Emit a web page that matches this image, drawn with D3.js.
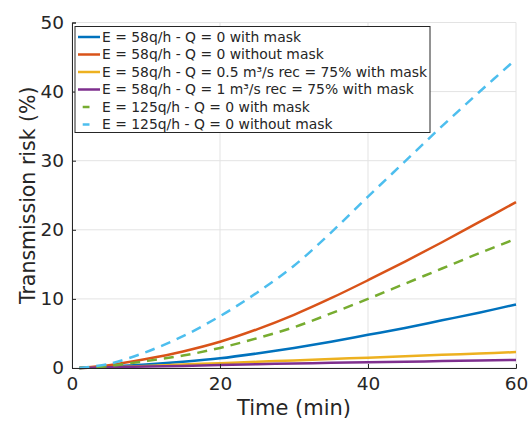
<!DOCTYPE html>
<html>
<head>
<meta charset="utf-8">
<script src="https://cdn.jsdelivr.net/npm/d3@7"></script>
<style>
  html, body { margin: 0; padding: 0; background: #fff; }
  svg { display: block; font-family: "DejaVu Sans", sans-serif; }
</style>
</head>
<body>
<svg id="chart" width="529" height="421"></svg>
<script>
// Exposure time (minutes)
const times = [1, 5, 10, 15, 20, 25, 30, 35, 40, 45, 50, 55, 60];

// Transmission risk (%) for each scenario
const risk58Mask        = [0, 0.2, 0.5, 0.9, 1.4, 2.1, 2.9, 3.8, 4.8, 5.8, 6.9, 8.0, 9.2];
const risk58NoMask      = [0, 0.4, 1.3, 2.4, 3.8, 5.6, 7.7, 10.1, 12.7, 15.4, 18.2, 21.1, 24.0];
const risk58Q05Mask     = [0, 0.1, 0.3, 0.5, 0.7, 0.9, 1.1, 1.3, 1.5, 1.7, 1.9, 2.1, 2.3];
const risk58Q1Mask      = [0, 0.1, 0.2, 0.3, 0.45, 0.55, 0.65, 0.75, 0.85, 0.9, 1.0, 1.1, 1.15];
const risk125Mask       = [0, 0.3, 1.0, 1.8, 2.9, 4.3, 5.9, 7.9, 10.0, 12.2, 14.4, 16.6, 18.7];
const risk125NoMask     = [0, 0.6, 2.3, 4.6, 7.5, 10.9, 14.8, 19.6, 24.8, 29.9, 35.0, 39.9, 44.7];

const seriesNames = [
  "E = 58q/h - Q = 0 with mask",
  "E = 58q/h - Q = 0 without mask",
  "E = 58q/h - Q = 0.5 m³/s rec = 75% with mask",
  "E = 58q/h - Q = 1 m³/s rec = 75% with mask",
  "E = 125q/h - Q = 0 with mask",
  "E = 125q/h - Q = 0 without mask"
];
const seriesValues = [risk58Mask, risk58NoMask, risk58Q05Mask, risk58Q1Mask, risk125Mask, risk125NoMask];
const seriesColors = ["#0072BD", "#D95319", "#EDB120", "#7E2F8E", "#77AC30", "#4DBEEE"];
const seriesDashed = [false, false, false, false, true, true];

const xTicks = [0, 20, 40, 60];
const yTicks = [0, 10, 20, 30, 40, 50];

const svg = d3.select("#chart");
const margin = { left: 72, right: 13, top: 22.5, bottom: 53 };
const W = 529, H = 421;

const x = d3.scaleLinear().domain([0, 60]).range([margin.left, W - margin.right]);
const y = d3.scaleLinear().domain([0, 50]).range([H - margin.bottom, margin.top]);

const axisColor = "#262626";
const gridColor = "#e3e3e3";

// grid
const grid = svg.append("g");
grid.selectAll("line.gx").data(xTicks).join("line")
  .attr("x1", d => x(d)).attr("x2", d => x(d))
  .attr("y1", y(0)).attr("y2", y(50))
  .attr("stroke", gridColor).attr("stroke-width", 1);
grid.selectAll("line.gy").data(yTicks).join("line")
  .attr("x1", x(0)).attr("x2", x(60))
  .attr("y1", d => y(d)).attr("y2", d => y(d))
  .attr("stroke", gridColor).attr("stroke-width", 1);

// series lines
const line = d3.line().x(d => x(d[0])).y(d => y(d[1])).curve(d3.curveCatmullRom.alpha(0.5));
seriesValues.forEach((vals, i) => {
  svg.append("path")
    .datum(times.map((t, k) => [t, vals[k]]))
    .attr("d", line)
    .attr("fill", "none")
    .attr("stroke", seriesColors[i])
    .attr("stroke-width", 2.5)
    .attr("stroke-dasharray", seriesDashed[i] ? "10,7" : null);
});

// axes
const xAxis = d3.axisBottom(x).tickValues(xTicks).tickSize(-4).tickPadding(9);
const yAxis = d3.axisLeft(y).tickValues(yTicks).tickSize(-4).tickPadding(8);

const gx = svg.append("g").attr("transform", `translate(0,${y(0)})`).call(xAxis);
const gy = svg.append("g").attr("transform", `translate(${x(0)},0)`).call(yAxis);
[gx, gy].forEach(g => {
  g.select(".domain").attr("stroke", axisColor);
  g.selectAll(".tick line").attr("stroke", axisColor);
  g.selectAll(".tick text").attr("fill", axisColor)
    .style("font-family", "DejaVu Sans, sans-serif").style("font-size", "18.5px");
});

// axis titles
svg.append("text")
  .attr("x", x(30)).attr("y", 415)
  .attr("text-anchor", "middle")
  .attr("fill", axisColor)
  .style("font-size", "21px")
  .text("Time (min)");
svg.append("text")
  .attr("transform", `translate(35,${y(25)}) rotate(-90)`)
  .attr("text-anchor", "middle")
  .attr("fill", axisColor)
  .style("font-size", "20.5px")
  .text("Transmission risk (%)");

// legend
const lg = svg.append("g");
lg.append("rect")
  .attr("x", 75).attr("y", 26.5).attr("width", 355).attr("height", 106)
  .attr("fill", "#fff").attr("stroke", axisColor).attr("stroke-width", 1);
seriesNames.forEach((name, i) => {
  const cy = 37 + i * 17.5;
  lg.append("line")
    .attr("x1", seriesDashed[i] ? 82.7 : 78).attr("x2", seriesDashed[i] ? 89.5 : 100)
    .attr("y1", cy).attr("y2", cy)
    .attr("stroke", seriesColors[i]).attr("stroke-width", 2.5);
  lg.append("text")
    .attr("x", 102).attr("y", cy).attr("dy", "0.35em")
    .attr("fill", axisColor)
    .style("font-size", "13.9px")
    .text(name);
});
</script>
</body>
</html>
